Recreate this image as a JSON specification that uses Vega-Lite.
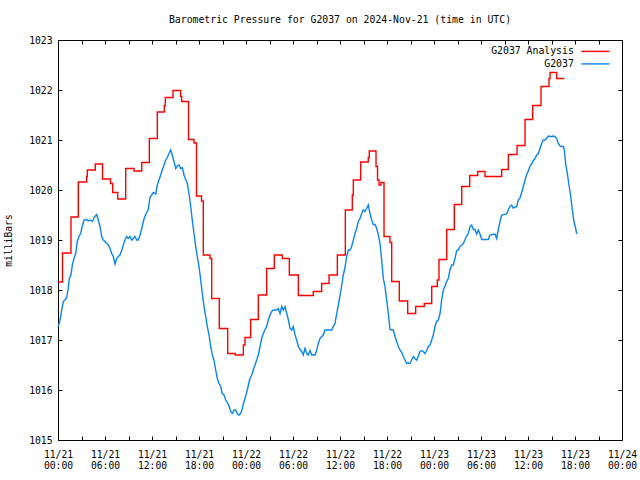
{
  "$schema": "https://vega.github.io/schema/vega-lite/v6.json",
  "width": 564,
  "height": 400,
  "autosize": {"type": "none"},
  "padding": {"left": 58, "top": 40, "right": 18, "bottom": 40},
  "background": "white",
  "config": {
    "view": {"stroke": "black", "strokeWidth": 1},
    "font": "DejaVu Sans Mono"
  },
  "title": {
    "text": "Barometric Pressure for G2037 on 2024-Nov-21 (time in UTC)",
    "font": "DejaVu Sans Mono",
    "fontSize": 9.8,
    "fontWeight": "normal",
    "color": "black",
    "anchor": "middle",
    "offset": 10
  },
  "datasets": {
    "analysis": [
      {"hour": 0.00, "mb": 1018.16}, {"hour": 0.57, "mb": 1018.74}, {"hour": 1.66, "mb": 1019.46},
      {"hour": 2.59, "mb": 1020.16}, {"hour": 3.66, "mb": 1020.27}, {"hour": 3.74, "mb": 1020.40},
      {"hour": 4.76, "mb": 1020.52}, {"hour": 5.68, "mb": 1020.22}, {"hour": 6.70, "mb": 1020.13},
      {"hour": 6.98, "mb": 1019.95}, {"hour": 7.62, "mb": 1019.82}, {"hour": 8.64, "mb": 1020.43},
      {"hour": 9.70, "mb": 1020.38}, {"hour": 10.69, "mb": 1020.55}, {"hour": 11.66, "mb": 1021.03},
      {"hour": 12.68, "mb": 1021.56}, {"hour": 13.57, "mb": 1021.69}, {"hour": 13.70, "mb": 1021.85},
      {"hour": 14.68, "mb": 1021.99}, {"hour": 15.66, "mb": 1021.87}, {"hour": 15.79, "mb": 1021.77},
      {"hour": 16.66, "mb": 1021.01}, {"hour": 17.36, "mb": 1020.94}, {"hour": 17.68, "mb": 1019.88},
      {"hour": 18.32, "mb": 1019.78}, {"hour": 18.55, "mb": 1018.70}, {"hour": 19.40, "mb": 1018.63},
      {"hour": 19.62, "mb": 1017.83}, {"hour": 20.59, "mb": 1017.23}, {"hour": 21.66, "mb": 1016.73},
      {"hour": 22.63, "mb": 1016.70}, {"hour": 23.66, "mb": 1016.90}, {"hour": 23.87, "mb": 1017.05},
      {"hour": 24.60, "mb": 1017.41}, {"hour": 25.57, "mb": 1017.90}, {"hour": 26.64, "mb": 1018.43},
      {"hour": 27.61, "mb": 1018.70}, {"hour": 28.63, "mb": 1018.63}, {"hour": 29.53, "mb": 1018.30},
      {"hour": 30.68, "mb": 1017.89}, {"hour": 32.59, "mb": 1017.97}, {"hour": 33.66, "mb": 1018.13},
      {"hour": 34.60, "mb": 1018.30}, {"hour": 35.66, "mb": 1018.70}, {"hour": 36.68, "mb": 1019.60},
      {"hour": 37.57, "mb": 1019.90}, {"hour": 37.70, "mb": 1020.20}, {"hour": 38.64, "mb": 1020.56},
      {"hour": 39.61, "mb": 1020.65}, {"hour": 39.74, "mb": 1020.78}, {"hour": 40.60, "mb": 1020.47},
      {"hour": 40.79, "mb": 1020.20}, {"hour": 40.98, "mb": 1020.10}, {"hour": 41.23, "mb": 1020.15},
      {"hour": 41.62, "mb": 1019.07}, {"hour": 42.38, "mb": 1018.95}, {"hour": 42.60, "mb": 1018.17},
      {"hour": 43.57, "mb": 1017.78}, {"hour": 44.64, "mb": 1017.53}, {"hour": 45.66, "mb": 1017.67},
      {"hour": 46.76, "mb": 1017.73}, {"hour": 47.71, "mb": 1018.07}, {"hour": 48.42, "mb": 1018.20},
      {"hour": 48.64, "mb": 1018.61}, {"hour": 49.62, "mb": 1019.21}, {"hour": 50.59, "mb": 1019.71},
      {"hour": 51.54, "mb": 1020.07}, {"hour": 52.56, "mb": 1020.29}, {"hour": 53.58, "mb": 1020.37},
      {"hour": 54.51, "mb": 1020.27}, {"hour": 56.64, "mb": 1020.41}, {"hour": 57.49, "mb": 1020.71},
      {"hour": 58.60, "mb": 1020.89}, {"hour": 59.62, "mb": 1021.41}, {"hour": 60.60, "mb": 1021.69},
      {"hour": 61.66, "mb": 1022.07}, {"hour": 62.68, "mb": 1022.23}, {"hour": 62.81, "mb": 1022.35},
      {"hour": 63.66, "mb": 1022.23}, {"hour": 64.63, "mb": 1022.23}
    ],
    "obs": [
      {"hour": 0.04, "mb": 1017.27}, {"hour": 0.26, "mb": 1017.40}, {"hour": 0.47, "mb": 1017.60},
      {"hour": 0.68, "mb": 1017.77}, {"hour": 0.89, "mb": 1017.80}, {"hour": 1.11, "mb": 1017.85},
      {"hour": 1.31, "mb": 1018.03}, {"hour": 1.44, "mb": 1018.23}, {"hour": 1.66, "mb": 1018.30},
      {"hour": 1.83, "mb": 1018.50}, {"hour": 2.04, "mb": 1018.63}, {"hour": 2.26, "mb": 1018.73},
      {"hour": 2.46, "mb": 1018.97}, {"hour": 2.68, "mb": 1019.07}, {"hour": 2.90, "mb": 1019.13},
      {"hour": 3.10, "mb": 1019.28}, {"hour": 3.32, "mb": 1019.40}, {"hour": 3.66, "mb": 1019.41},
      {"hour": 3.87, "mb": 1019.38}, {"hour": 4.09, "mb": 1019.40}, {"hour": 4.38, "mb": 1019.37},
      {"hour": 4.72, "mb": 1019.47}, {"hour": 4.94, "mb": 1019.51}, {"hour": 5.14, "mb": 1019.40},
      {"hour": 5.36, "mb": 1019.27}, {"hour": 5.58, "mb": 1019.07}, {"hour": 5.78, "mb": 1019.00},
      {"hour": 6.00, "mb": 1018.97}, {"hour": 6.22, "mb": 1018.93}, {"hour": 6.42, "mb": 1018.90},
      {"hour": 6.64, "mb": 1018.83}, {"hour": 6.86, "mb": 1018.73}, {"hour": 7.06, "mb": 1018.67},
      {"hour": 7.28, "mb": 1018.52}, {"hour": 7.49, "mb": 1018.63}, {"hour": 7.70, "mb": 1018.67},
      {"hour": 7.91, "mb": 1018.70}, {"hour": 8.13, "mb": 1018.79}, {"hour": 8.34, "mb": 1018.90},
      {"hour": 8.55, "mb": 1019.00}, {"hour": 8.77, "mb": 1019.07}, {"hour": 8.97, "mb": 1019.03},
      {"hour": 9.19, "mb": 1019.07}, {"hour": 9.41, "mb": 1019.00}, {"hour": 9.61, "mb": 1019.03},
      {"hour": 9.83, "mb": 1019.07}, {"hour": 10.05, "mb": 1019.00}, {"hour": 10.25, "mb": 1019.00},
      {"hour": 10.47, "mb": 1019.10}, {"hour": 10.69, "mb": 1019.23}, {"hour": 10.89, "mb": 1019.37},
      {"hour": 11.11, "mb": 1019.48}, {"hour": 11.32, "mb": 1019.55}, {"hour": 11.53, "mb": 1019.61},
      {"hour": 11.74, "mb": 1019.85}, {"hour": 11.96, "mb": 1019.90}, {"hour": 12.17, "mb": 1019.95},
      {"hour": 12.47, "mb": 1019.92}, {"hour": 12.68, "mb": 1020.10}, {"hour": 12.89, "mb": 1020.20},
      {"hour": 13.11, "mb": 1020.30}, {"hour": 13.31, "mb": 1020.40}, {"hour": 13.53, "mb": 1020.50},
      {"hour": 13.75, "mb": 1020.60}, {"hour": 13.95, "mb": 1020.65}, {"hour": 14.17, "mb": 1020.73},
      {"hour": 14.39, "mb": 1020.80}, {"hour": 14.59, "mb": 1020.70}, {"hour": 14.81, "mb": 1020.57},
      {"hour": 15.03, "mb": 1020.43}, {"hour": 15.23, "mb": 1020.48}, {"hour": 15.45, "mb": 1020.50},
      {"hour": 15.66, "mb": 1020.43}, {"hour": 15.87, "mb": 1020.45}, {"hour": 16.09, "mb": 1020.30},
      {"hour": 16.30, "mb": 1020.21}, {"hour": 16.51, "mb": 1020.13}, {"hour": 16.72, "mb": 1019.93},
      {"hour": 16.94, "mb": 1019.67}, {"hour": 17.14, "mb": 1019.40}, {"hour": 17.36, "mb": 1019.13},
      {"hour": 17.58, "mb": 1018.87}, {"hour": 17.78, "mb": 1018.67}, {"hour": 18.00, "mb": 1018.47},
      {"hour": 18.22, "mb": 1018.20}, {"hour": 18.42, "mb": 1017.93}, {"hour": 18.64, "mb": 1017.67},
      {"hour": 18.86, "mb": 1017.47}, {"hour": 19.06, "mb": 1017.27}, {"hour": 19.28, "mb": 1017.10},
      {"hour": 19.49, "mb": 1016.87}, {"hour": 19.70, "mb": 1016.70}, {"hour": 19.91, "mb": 1016.60},
      {"hour": 20.13, "mb": 1016.40}, {"hour": 20.34, "mb": 1016.23}, {"hour": 20.55, "mb": 1016.13},
      {"hour": 20.77, "mb": 1016.07}, {"hour": 20.97, "mb": 1015.93}, {"hour": 21.19, "mb": 1015.90},
      {"hour": 21.41, "mb": 1015.80}, {"hour": 21.61, "mb": 1015.75}, {"hour": 21.83, "mb": 1015.68},
      {"hour": 22.05, "mb": 1015.57}, {"hour": 22.25, "mb": 1015.53}, {"hour": 22.47, "mb": 1015.60},
      {"hour": 22.68, "mb": 1015.60}, {"hour": 22.89, "mb": 1015.53}, {"hour": 23.11, "mb": 1015.50},
      {"hour": 23.32, "mb": 1015.53}, {"hour": 23.53, "mb": 1015.63}, {"hour": 23.74, "mb": 1015.77},
      {"hour": 23.96, "mb": 1015.88}, {"hour": 24.17, "mb": 1016.00}, {"hour": 24.38, "mb": 1016.15},
      {"hour": 24.51, "mb": 1016.23}, {"hour": 24.73, "mb": 1016.30}, {"hour": 24.93, "mb": 1016.40},
      {"hour": 25.15, "mb": 1016.50}, {"hour": 25.37, "mb": 1016.60}, {"hour": 25.57, "mb": 1016.70},
      {"hour": 25.79, "mb": 1016.87}, {"hour": 26.00, "mb": 1017.03}, {"hour": 26.21, "mb": 1017.13},
      {"hour": 26.43, "mb": 1017.21}, {"hour": 26.64, "mb": 1017.27}, {"hour": 26.85, "mb": 1017.40},
      {"hour": 27.06, "mb": 1017.50}, {"hour": 27.28, "mb": 1017.57}, {"hour": 27.49, "mb": 1017.60},
      {"hour": 27.70, "mb": 1017.60}, {"hour": 27.92, "mb": 1017.60}, {"hour": 28.12, "mb": 1017.63},
      {"hour": 28.34, "mb": 1017.53}, {"hour": 28.56, "mb": 1017.67}, {"hour": 28.76, "mb": 1017.60},
      {"hour": 28.98, "mb": 1017.67}, {"hour": 29.20, "mb": 1017.53}, {"hour": 29.40, "mb": 1017.41},
      {"hour": 29.62, "mb": 1017.23}, {"hour": 29.83, "mb": 1017.20}, {"hour": 30.04, "mb": 1017.27},
      {"hour": 30.26, "mb": 1017.10}, {"hour": 30.47, "mb": 1017.00}, {"hour": 30.68, "mb": 1016.87},
      {"hour": 30.89, "mb": 1016.81}, {"hour": 31.11, "mb": 1016.77}, {"hour": 31.31, "mb": 1016.70},
      {"hour": 31.53, "mb": 1016.83}, {"hour": 31.75, "mb": 1016.73}, {"hour": 31.95, "mb": 1016.70},
      {"hour": 32.17, "mb": 1016.79}, {"hour": 32.39, "mb": 1016.70}, {"hour": 32.59, "mb": 1016.70},
      {"hour": 32.81, "mb": 1016.70}, {"hour": 33.03, "mb": 1016.80}, {"hour": 33.23, "mb": 1016.93},
      {"hour": 33.45, "mb": 1017.03}, {"hour": 33.66, "mb": 1017.07}, {"hour": 33.87, "mb": 1017.10},
      {"hour": 34.08, "mb": 1017.20}, {"hour": 34.51, "mb": 1017.20}, {"hour": 34.94, "mb": 1017.20},
      {"hour": 35.14, "mb": 1017.27}, {"hour": 35.36, "mb": 1017.33}, {"hour": 35.58, "mb": 1017.53},
      {"hour": 35.79, "mb": 1017.70}, {"hour": 36.00, "mb": 1017.88}, {"hour": 36.22, "mb": 1018.10},
      {"hour": 36.42, "mb": 1018.30}, {"hour": 36.64, "mb": 1018.45}, {"hour": 36.85, "mb": 1018.67},
      {"hour": 37.06, "mb": 1018.80}, {"hour": 37.28, "mb": 1018.80}, {"hour": 37.49, "mb": 1018.87},
      {"hour": 37.70, "mb": 1019.00}, {"hour": 37.91, "mb": 1019.13}, {"hour": 38.13, "mb": 1019.23},
      {"hour": 38.34, "mb": 1019.37}, {"hour": 38.55, "mb": 1019.43}, {"hour": 38.77, "mb": 1019.53},
      {"hour": 38.97, "mb": 1019.60}, {"hour": 39.19, "mb": 1019.57}, {"hour": 39.40, "mb": 1019.63},
      {"hour": 39.61, "mb": 1019.70}, {"hour": 39.83, "mb": 1019.53}, {"hour": 40.05, "mb": 1019.40},
      {"hour": 40.25, "mb": 1019.31}, {"hour": 40.47, "mb": 1019.31}, {"hour": 40.69, "mb": 1019.23},
      {"hour": 40.89, "mb": 1019.10}, {"hour": 41.11, "mb": 1018.93}, {"hour": 41.32, "mb": 1018.60},
      {"hour": 41.53, "mb": 1018.23}, {"hour": 41.74, "mb": 1018.07}, {"hour": 41.96, "mb": 1017.80},
      {"hour": 42.17, "mb": 1017.53}, {"hour": 42.38, "mb": 1017.21}, {"hour": 42.60, "mb": 1017.20},
      {"hour": 42.80, "mb": 1017.20}, {"hour": 43.02, "mb": 1017.07}, {"hour": 43.24, "mb": 1016.97},
      {"hour": 43.44, "mb": 1016.87}, {"hour": 43.66, "mb": 1016.80}, {"hour": 43.88, "mb": 1016.75},
      {"hour": 44.08, "mb": 1016.67}, {"hour": 44.30, "mb": 1016.60}, {"hour": 44.52, "mb": 1016.53},
      {"hour": 44.72, "mb": 1016.54}, {"hour": 44.94, "mb": 1016.53}, {"hour": 45.15, "mb": 1016.60},
      {"hour": 45.36, "mb": 1016.67}, {"hour": 45.57, "mb": 1016.63}, {"hour": 45.79, "mb": 1016.60},
      {"hour": 45.99, "mb": 1016.67}, {"hour": 46.21, "mb": 1016.77}, {"hour": 46.43, "mb": 1016.79},
      {"hour": 46.63, "mb": 1016.77}, {"hour": 46.85, "mb": 1016.73}, {"hour": 47.07, "mb": 1016.79},
      {"hour": 47.27, "mb": 1016.87}, {"hour": 47.49, "mb": 1016.90}, {"hour": 47.71, "mb": 1017.00},
      {"hour": 47.91, "mb": 1017.10}, {"hour": 48.13, "mb": 1017.27}, {"hour": 48.34, "mb": 1017.37},
      {"hour": 48.55, "mb": 1017.40}, {"hour": 48.77, "mb": 1017.53}, {"hour": 48.98, "mb": 1017.80},
      {"hour": 49.19, "mb": 1018.00}, {"hour": 49.40, "mb": 1018.08}, {"hour": 49.62, "mb": 1018.17},
      {"hour": 49.82, "mb": 1018.23}, {"hour": 50.04, "mb": 1018.40}, {"hour": 50.26, "mb": 1018.50},
      {"hour": 50.46, "mb": 1018.50}, {"hour": 50.68, "mb": 1018.63}, {"hour": 50.90, "mb": 1018.79},
      {"hour": 51.10, "mb": 1018.80}, {"hour": 51.32, "mb": 1018.87}, {"hour": 51.54, "mb": 1018.90},
      {"hour": 51.74, "mb": 1018.93}, {"hour": 51.96, "mb": 1019.01}, {"hour": 52.17, "mb": 1019.08},
      {"hour": 52.38, "mb": 1019.13}, {"hour": 52.60, "mb": 1019.27}, {"hour": 52.81, "mb": 1019.30},
      {"hour": 53.02, "mb": 1019.21}, {"hour": 53.23, "mb": 1019.21}, {"hour": 53.45, "mb": 1019.12},
      {"hour": 53.66, "mb": 1019.20}, {"hour": 53.87, "mb": 1019.12}, {"hour": 54.09, "mb": 1019.01},
      {"hour": 54.51, "mb": 1019.01}, {"hour": 54.93, "mb": 1019.01}, {"hour": 55.15, "mb": 1019.10},
      {"hour": 55.79, "mb": 1019.12}, {"hour": 56.00, "mb": 1019.03}, {"hour": 56.21, "mb": 1019.21},
      {"hour": 56.43, "mb": 1019.37}, {"hour": 56.64, "mb": 1019.50}, {"hour": 57.28, "mb": 1019.52},
      {"hour": 57.49, "mb": 1019.61}, {"hour": 57.70, "mb": 1019.67}, {"hour": 57.92, "mb": 1019.70},
      {"hour": 58.12, "mb": 1019.64}, {"hour": 58.56, "mb": 1019.67}, {"hour": 58.76, "mb": 1019.80},
      {"hour": 58.98, "mb": 1019.84}, {"hour": 59.19, "mb": 1019.95}, {"hour": 59.40, "mb": 1020.07},
      {"hour": 59.62, "mb": 1020.20}, {"hour": 59.83, "mb": 1020.31}, {"hour": 60.04, "mb": 1020.38},
      {"hour": 60.26, "mb": 1020.48}, {"hour": 60.47, "mb": 1020.52}, {"hour": 60.68, "mb": 1020.59},
      {"hour": 60.89, "mb": 1020.63}, {"hour": 61.11, "mb": 1020.70}, {"hour": 61.32, "mb": 1020.73},
      {"hour": 61.53, "mb": 1020.83}, {"hour": 61.75, "mb": 1020.93}, {"hour": 61.95, "mb": 1021.00},
      {"hour": 62.17, "mb": 1021.00}, {"hour": 62.38, "mb": 1021.03}, {"hour": 62.59, "mb": 1021.08},
      {"hour": 62.81, "mb": 1021.07}, {"hour": 63.02, "mb": 1021.07}, {"hour": 63.23, "mb": 1021.08},
      {"hour": 63.45, "mb": 1021.07}, {"hour": 63.66, "mb": 1021.03}, {"hour": 63.87, "mb": 1020.93},
      {"hour": 64.09, "mb": 1020.88}, {"hour": 64.30, "mb": 1020.87}, {"hour": 64.51, "mb": 1020.87},
      {"hour": 64.64, "mb": 1020.80}, {"hour": 64.81, "mb": 1020.53}, {"hour": 65.02, "mb": 1020.33},
      {"hour": 65.23, "mb": 1020.10}, {"hour": 65.45, "mb": 1019.87}, {"hour": 65.66, "mb": 1019.60},
      {"hour": 65.87, "mb": 1019.37}, {"hour": 66.09, "mb": 1019.23}, {"hour": 66.22, "mb": 1019.12}
    ]
  },
  "layer": [
    {
      "data": {"name": "analysis"},
      "mark": {"type": "line", "interpolate": "step-after", "strokeWidth": 1.4},
      "encoding": {
        "x": {
          "field": "hour", "type": "quantitative",
          "scale": {"domain": [0, 72], "nice": false, "zero": false},
          "axis": {
            "orient": "bottom",
            "values": [0, 3, 6, 9, 12, 15, 18, 21, 24, 27, 30, 33, 36, 39, 42, 45, 48, 51, 54, 57, 60, 63, 66, 69, 72],
            "labelExpr": "datum.value % 6 == 0 ? ['11/' + (21 + floor(datum.value / 24)), format(datum.value % 24, '02d') + ':00'] : ''",
            "tickSize": -4, "tickColor": "black", "tickWidth": 1,
            "domain": false, "grid": false,
            "labelFont": "DejaVu Sans Mono", "labelFontSize": 9.7, "labelColor": "black",
            "labelPadding": 13, "labelLineHeight": 11,
            "labelOverlap": false, "labelFlush": false, "labelBound": false,
            "title": null
          }
        },
        "y": {
          "field": "mb", "type": "quantitative",
          "scale": {"domain": [1015, 1023], "nice": false, "zero": false},
          "axis": {
            "orient": "left",
            "values": [1015, 1016, 1017, 1018, 1019, 1020, 1021, 1022, 1023],
            "format": "d",
            "tickSize": -4, "tickColor": "black", "tickWidth": 1,
            "domain": false, "grid": false,
            "labelFont": "DejaVu Sans Mono", "labelFontSize": 9.7, "labelColor": "black",
            "labelPadding": 10, "labelOverlap": false, "labelFlush": false,
            "title": "milliBars",
            "titleFont": "DejaVu Sans Mono", "titleFontSize": 9.7, "titleFontWeight": "normal",
            "titleColor": "black", "titleX": -50, "titleY": 200, "titleAngle": -90,
            "titleAlign": "center", "titleBaseline": "middle"
          }
        },
        "color": {
          "datum": "G2037 Analysis", "type": "nominal",
          "scale": {"domain": ["G2037 Analysis", "G2037"], "range": ["#ff0000", "#0a84f5"]},
          "legend": {
            "orient": "none", "legendX": 532.5, "legendY": 6.5,
            "title": null, "padding": 0,
            "symbolType": "M-4.667,0H4.667", "symbolSize": 36, "symbolStrokeWidth": 1.4,
            "labelAlign": "right", "labelOffset": -26.5,
            "labelFont": "DejaVu Sans Mono", "labelFontSize": 9.8, "labelColor": "black",
            "rowPadding": 1.5
          }
        }
      }
    },
    {
      "data": {"name": "obs"},
      "mark": {"type": "line", "strokeWidth": 1.4},
      "encoding": {
        "x": {
          "field": "hour", "type": "quantitative",
          "axis": {
            "orient": "top",
            "values": [0, 3, 6, 9, 12, 15, 18, 21, 24, 27, 30, 33, 36, 39, 42, 45, 48, 51, 54, 57, 60, 63, 66, 69, 72],
            "labels": false, "tickSize": -4, "tickColor": "black", "tickWidth": 1,
            "domain": false, "grid": false, "title": null
          }
        },
        "y": {
          "field": "mb", "type": "quantitative",
          "axis": {
            "orient": "right",
            "values": [1015, 1016, 1017, 1018, 1019, 1020, 1021, 1022, 1023],
            "labels": false, "tickSize": -4, "tickColor": "black", "tickWidth": 1,
            "domain": false, "grid": false, "title": null
          }
        },
        "color": {"datum": "G2037", "type": "nominal"}
      }
    }
  ],
  "resolve": {"axis": {"x": "independent", "y": "independent"}}
}
